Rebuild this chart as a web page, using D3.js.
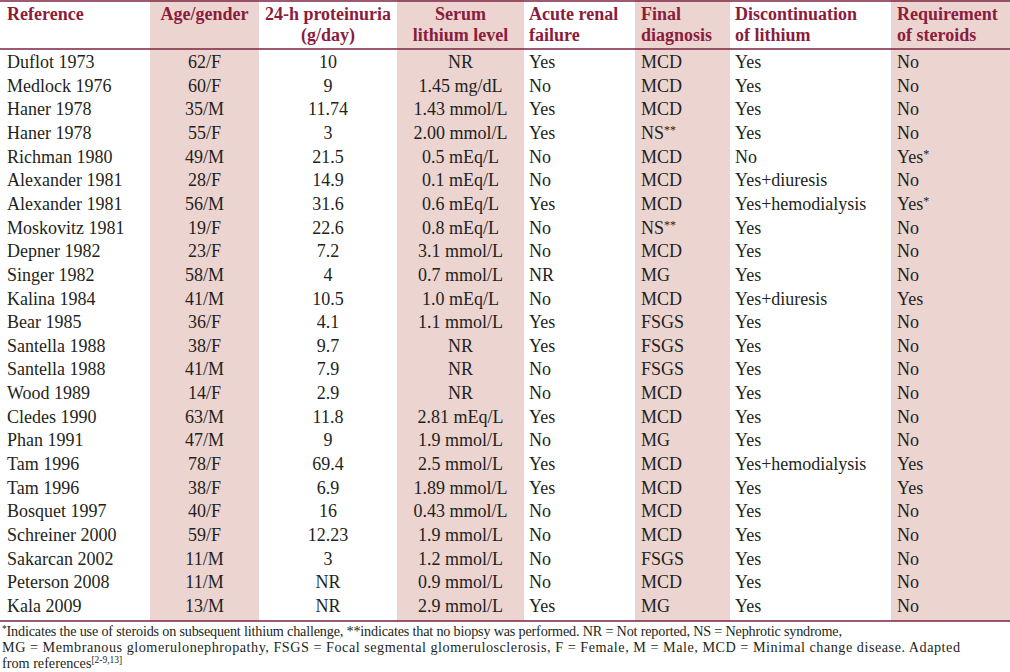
<!DOCTYPE html>
<html><head><meta charset="utf-8">
<script src="https://cdn.jsdelivr.net/npm/d3@7/dist/d3.min.js"></script>
<style>html,body{margin:0;padding:0;background:#fff;}svg{display:block;} text{font-family:"Liberation Serif","DejaVu Serif",serif;}</style>
</head><body><svg id="chart" width="1010" height="672"></svg>
<script>
const headers = [["Reference"],["Age/gender"],["24-h proteinuria","(g/day)"],["Serum","lithium level"],["Acute renal","failure"],["Final","diagnosis"],["Discontinuation","of lithium"],["Requirement","of steroids"]];
const references = ["Duflot 1973","Medlock 1976","Haner 1978","Haner 1978","Richman 1980","Alexander 1981","Alexander 1981","Moskovitz 1981","Depner 1982","Singer 1982","Kalina 1984","Bear 1985","Santella 1988","Santella 1988","Wood 1989","Cledes 1990","Phan 1991","Tam 1996","Tam 1996","Bosquet 1997","Schreiner 2000","Sakarcan 2002","Peterson 2008","Kala 2009"];
const ageGender = ["62/F","60/F","35/M","55/F","49/M","28/F","56/M","19/F","23/F","58/M","41/M","36/F","38/F","41/M","14/F","63/M","47/M","78/F","38/F","40/F","59/F","11/M","11/M","13/M"];
const proteinuria = ["10","9","11.74","3","21.5","14.9","31.6","22.6","7.2","4","10.5","4.1","9.7","7.9","2.9","11.8","9","69.4","6.9","16","12.23","3","NR","NR"];
const serumLithium = ["NR","1.45 mg/dL","1.43 mmol/L","2.00 mmol/L","0.5 mEq/L","0.1 mEq/L","0.6 mEq/L","0.8 mEq/L","3.1 mmol/L","0.7 mmol/L","1.0 mEq/L","1.1 mmol/L","NR","NR","NR","2.81 mEq/L","1.9 mmol/L","2.5 mmol/L","1.89 mmol/L","0.43 mmol/L","1.9 mmol/L","1.2 mmol/L","0.9 mmol/L","2.9 mmol/L"];
const acuteRenalFailure = ["Yes","No","Yes","Yes","No","No","Yes","No","No","NR","No","Yes","Yes","No","No","Yes","No","Yes","Yes","No","No","No","No","Yes"];
const finalDiagnosis = ["MCD","MCD","MCD","NS**","MCD","MCD","MCD","NS**","MCD","MG","MCD","FSGS","FSGS","FSGS","MCD","MCD","MG","MCD","MCD","MCD","MCD","FSGS","MCD","MG"];
const discontinuation = ["Yes","Yes","Yes","Yes","No","Yes+diuresis","Yes+hemodialysis","Yes","Yes","Yes","Yes+diuresis","Yes","Yes","Yes","Yes","Yes","Yes","Yes+hemodialysis","Yes","Yes","Yes","Yes","Yes","Yes"];
const steroids = ["No","No","No","No","Yes*","No","Yes*","No","No","No","Yes","No","No","No","No","No","No","Yes","Yes","No","No","No","No","No"];
const footnotes = ["*Indicates the use of steroids on subsequent lithium challenge, **indicates that no biopsy was performed. NR = Not reported, NS = Nephrotic syndrome,","MG = Membranous glomerulonephropathy, FSGS = Focal segmental glomerulosclerosis, F = Female, M = Male, MCD = Minimal change disease. Adapted","from references"];
const footRef = "[2-9,13]";

const columns = [references, ageGender, proteinuria, serumLithium, acuteRenalFailure, finalDiagnosis, discontinuation, steroids];
const colLayout = [
  {x0:0,x1:150,align:"start",pad:7,shade:false},
  {x0:150,x1:259,align:"middle",shade:true},
  {x0:259,x1:397,align:"middle",shade:false},
  {x0:397,x1:524,align:"middle",shade:true},
  {x0:524,x1:635,align:"start",pad:5,shade:false},
  {x0:635,x1:730,align:"start",pad:6,shade:true},
  {x0:730,x1:891,align:"start",pad:5,shade:false},
  {x0:891,x1:1010,align:"start",pad:6,shade:true}
];
const footWidths = [840, 958, null];
const W=1010, H=672;
const svg = d3.select("#chart");
const shade="#ecd4d1", rule="#7d2241", headCol="#8a1c3c", textCol="#231f20";

const tableTop=0, headBottom=49, tableBottom=621;
const y = d3.scalePoint().domain(d3.range(references.length)).range([68, 612]);

svg.selectAll("rect.shade").data(colLayout.filter(c=>c.shade)).join("rect")
  .attr("class","shade")
  .attr("x",c=>c.x0).attr("width",c=>c.x1-c.x0).attr("y",tableTop).attr("height",tableBottom-tableTop)
  .attr("fill",shade);

function tx(c){ return c.align==="middle" ? (c.x0+c.x1)/2 : c.x0 + c.pad; }

headers.forEach((lines,i)=>{
  const c=colLayout[i];
  lines.forEach((t,j)=>{
    svg.append("text").attr("x",tx(c)).attr("y",20+j*21).attr("text-anchor",c.align)
      .attr("font-size",18).attr("font-weight","bold").attr("fill",headCol).text(t);
  });
});

columns.forEach((vals,i)=>{
  const c=colLayout[i];
  const g=svg.append("g");
  g.selectAll("text").data(vals).join("text")
    .attr("x",tx(c)).attr("y",(d,k)=>y(k)).attr("text-anchor",c.align)
    .attr("font-size",18).attr("fill",textCol)
    .each(function(d){
      const m=d.match(/^(.*?)(\*+)$/);
      const s=d3.select(this);
      if(m){ s.append("tspan").text(m[1]); s.append("tspan").attr("font-size",12).attr("dy",-5).text(m[2]); }
      else s.text(d);
    });
});

[[tableTop+1,1.6],[headBottom,1.4],[tableBottom,1.4]].forEach(([yy,w])=>{
  svg.append("line").attr("x1",0).attr("x2",W).attr("y1",yy).attr("y2",yy).attr("stroke",rule).attr("stroke-width",w);
});

footnotes.forEach((t,i)=>{
  const el=svg.append("text").attr("x",2).attr("y",636+i*16).attr("font-size",14.2).attr("fill",textCol);
  if(footWidths[i]) el.attr("textLength",footWidths[i]).attr("lengthAdjust","spacing");
  if(i===0){ el.append("tspan").attr("font-size",9.5).attr("dy",-4).text("*"); el.append("tspan").attr("dy",4).text(t.slice(1)); }
  else el.text(t);
  if(i===footnotes.length-1){ el.append("tspan").attr("font-size",9.5).attr("dy",-5).text(footRef); }
});
</script></body></html>
